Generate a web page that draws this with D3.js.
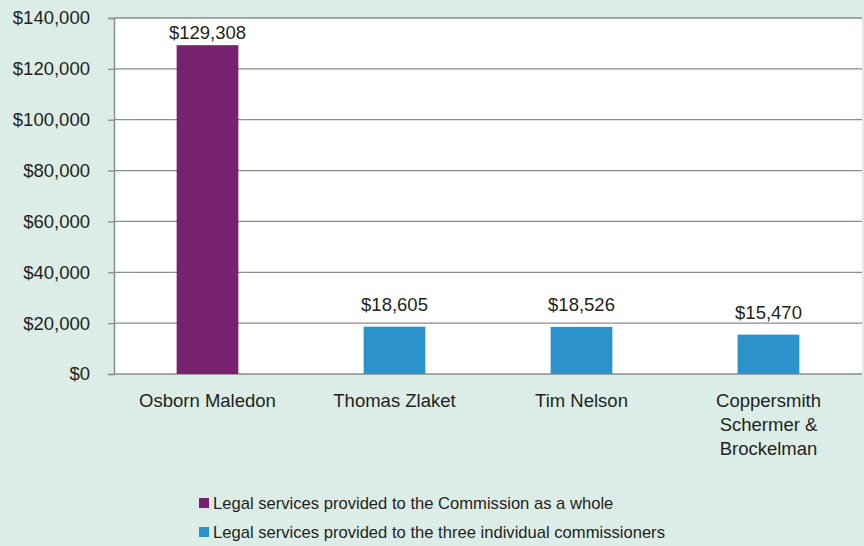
<!DOCTYPE html>
<html><head><meta charset="utf-8">
<script src="https://cdn.jsdelivr.net/npm/d3@7"></script>
<style>
html,body{margin:0;padding:0;background:#dcede7;}
svg{display:block;font-family:"Liberation Sans","Helvetica",Arial,sans-serif;}
</style></head>
<body>
<svg id="chart" width="864" height="546"></svg>
<script>
const categories = ["Osborn Maledon", "Thomas Zlaket", "Tim Nelson", "Coppersmith Schermer & Brockelman"];
const categoryLines = [["Osborn Maledon"], ["Thomas Zlaket"], ["Tim Nelson"], ["Coppersmith", "Schermer &", "Brockelman"]];
const values = [129308, 18605, 18526, 15470];
const seriesOf = [0, 1, 1, 1];
const seriesNames = ["Legal services provided to the Commission as a whole", "Legal services provided to the three individual commissioners"];
const seriesColors = ["#77216f", "#2b93c9"];
const yTicks = [0, 20000, 40000, 60000, 80000, 100000, 120000, 140000];

const svg = d3.select("#chart");
const W = 864, H = 546;
const m = {left: 114, right: 2, top: 18, bottom: 172};
const pw = W - m.left - m.right, ph = H - m.top - m.bottom;
const textColor = "#231f20";
const gridColor = "#8c8c8c";

svg.append("rect").attr("width", W).attr("height", H).attr("fill", "#dcede7");
const g = svg.append("g").attr("transform", `translate(${m.left},${m.top})`);
g.append("rect").attr("width", pw).attr("height", ph).attr("fill", "#fff");

const x = d3.scaleBand().domain(categories).range([0, pw]).paddingInner(0.67).paddingOuter(0.335);
const y = d3.scaleLinear().domain([0, 140000]).range([ph, 0]);

// gridlines
g.append("g").selectAll("line").data(yTicks).join("line")
  .attr("x1", 0).attr("x2", pw)
  .attr("y1", d => y(d)).attr("y2", d => y(d))
  .attr("stroke", gridColor).attr("stroke-width", 1.3);

// y axis
const yAxis = d3.axisLeft(y).tickValues(yTicks).tickSize(6).tickPadding(18)
  .tickFormat(d => "$" + d3.format(",")(d));
const ya = g.append("g").call(yAxis);
ya.select(".domain").attr("stroke", gridColor).attr("stroke-width", 1.5);
ya.selectAll(".tick line").attr("stroke", gridColor).attr("stroke-width", 1.3);
ya.selectAll(".tick text").attr("fill", textColor).attr("font-size", 18.5).attr("font-family", "Liberation Sans, Arial, sans-serif");

// bars
g.append("g").selectAll("rect").data(categories).join("rect")
  .attr("x", d => x(d))
  .attr("width", x.bandwidth())
  .attr("y", (d, i) => y(values[i]))
  .attr("height", (d, i) => ph - y(values[i]))
  .attr("fill", (d, i) => seriesColors[seriesOf[i]]);

// value labels
g.append("g").selectAll("text").data(categories).join("text")
  .attr("x", d => x(d) + x.bandwidth() / 2)
  .attr("y", (d, i) => Math.max(y(values[i]) - 16, 21))
  .attr("text-anchor", "middle")
  .attr("fill", textColor).attr("font-size", 18.5)
  .text((d, i) => "$" + d3.format(",")(values[i]));

// x labels
const xl = g.append("g").selectAll("text").data(categories).join("text")
  .attr("x", d => x(d) + x.bandwidth() / 2)
  .attr("y", ph + 33)
  .attr("text-anchor", "middle")
  .attr("fill", textColor).attr("font-size", 18.5);
xl.each(function(d, i) {
  d3.select(this).selectAll("tspan").data(categoryLines[i]).join("tspan")
    .attr("x", x(d) + x.bandwidth() / 2)
    .attr("dy", (t, j) => j === 0 ? 0 : 24)
    .text(t => t);
});

// legend
const lg = svg.append("g").attr("transform", "translate(199,0)");
seriesNames.forEach((name, i) => {
  const yy = 503 + i * 29;
  lg.append("rect").attr("x", 0).attr("y", yy - 5).attr("width", 10).attr("height", 10).attr("fill", seriesColors[i]);
  lg.append("text").attr("x", 14).attr("y", yy + 6).attr("fill", textColor).attr("font-size", 16.6).text(name);
});
</script>
</body></html>
